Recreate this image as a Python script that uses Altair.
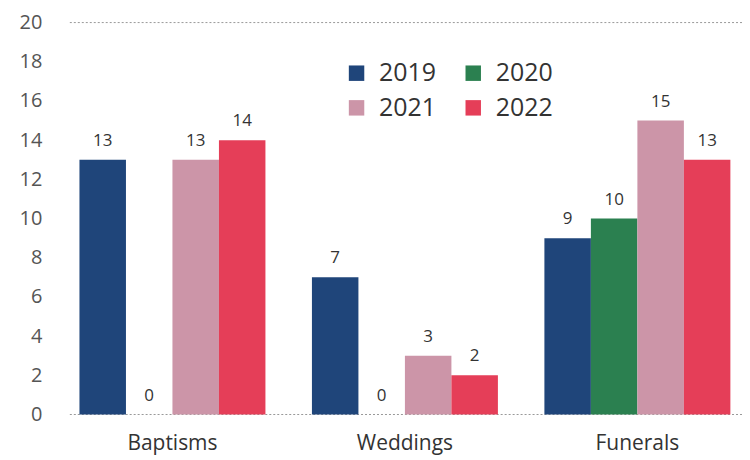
import altair as alt
import pandas as pd

categories = ["Baptisms", "Weddings", "Funerals"]
years = ["2019", "2020", "2021", "2022"]
v2019 = [13, 7, 9]
v2020 = [0, 0, 10]
v2021 = [13, 3, 15]
v2022 = [14, 2, 13]
colors = ["#1f457a", "#2b8050", "#cc95a8", "#e53e58"]

rows = []
for yr, vals in zip(years, [v2019, v2020, v2021, v2022]):
    for c, v in zip(categories, vals):
        rows.append({"Category": c, "Year": yr, "Value": v})
df = pd.DataFrame(rows)

legend_order = [years[0], years[2], years[1], years[3]]
legend_colors = [colors[0], colors[2], colors[1], colors[3]]

x = alt.X("Category:N", sort=categories, title=None,
          scale=alt.Scale(paddingInner=0.2, paddingOuter=0.05),
          axis=alt.Axis(labelAngle=0, labelFontSize=21, labelColor="#333",
                        labelFont="Open Sans", domain=False, ticks=False, labelPadding=18))
xo = alt.XOffset("Year:N", sort=years, scale=alt.Scale(paddingInner=0))
y = alt.Y("Value:Q", title=None,
          scale=alt.Scale(domain=[0, 20]),
          axis=alt.Axis(values=list(range(0, 21, 2)), labelFontSize=20, labelColor="#555",
                        labelFont="Open Sans", labelOverlap=False, labelFlush=False,
                        domain=False, ticks=False, grid=False, labelPadding=26))

rules_df = pd.DataFrame({"Value": [0, 20]})
rules = alt.Chart(rules_df).mark_rule(color="#999", strokeDash=[2, 2], strokeWidth=1).encode(
    y=y
)

bars = alt.Chart(df).mark_bar().encode(
    x=x, xOffset=xo, y=y,
    color=alt.Color("Year:N",
                    scale=alt.Scale(domain=legend_order, range=legend_colors),
                    legend=alt.Legend(title=None, orient="none", legendX=277, legendY=38,
                                      columns=2, symbolType="square", symbolSize=240,
                                      labelFontSize=25, labelColor="#333", labelFont="Open Sans",
                                      labelOffset=10, columnPadding=24, rowPadding=9,
                                      symbolStrokeWidth=0)),
)

labels = alt.Chart(df).mark_text(dy=-19, fontSize=17, color="#333", font="Open Sans").encode(
    x=x, xOffset=xo, y=y, text="Value:Q"
)

chart = alt.layer(rules, bars, labels).properties(
    width=676, height=393,
    autosize=alt.AutoSizeParams(type="none"),
    padding={"left": 60, "top": 14, "right": 0, "bottom": 45},
).configure_view(stroke=None)

chart.save("out.html", embed_options={"renderer": "svg", "actions": False})
